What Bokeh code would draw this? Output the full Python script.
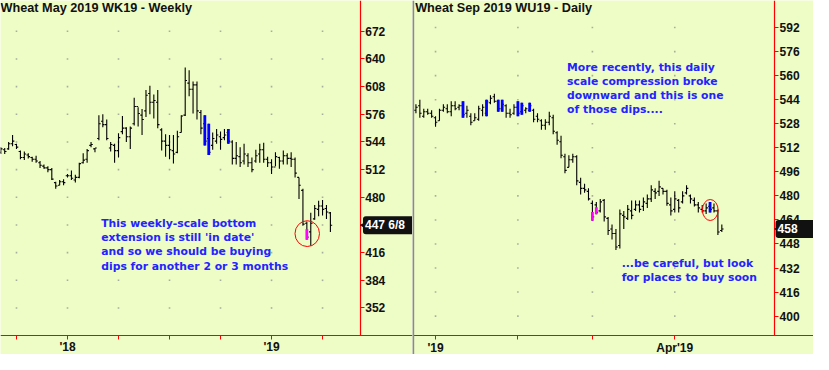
import numpy as np
from bokeh.plotting import figure
from bokeh.layouts import row
from bokeh.models import FixedTicker, Label, Arrow, NormalHead, ColumnDataSource, Range1d, Span
from bokeh.embed import file_html
from bokeh.resources import INLINE

# ---------------- Weekly (Wheat May 2019 WK19) ----------------
week_high = [538,537,544,552,542,534,533,531,527,528, 522,518,516,514,498,500,501,507,511,506,
             520,531,536,544,537,575,576,570,544,542, 554,574,561,562,595,584,582,604,609,599,
             604,560,553,552,552,557,575,630,627,614, 614,581,575,565,555,559,556,559,559,546,
             544,538,542,531,526,535,542,543,527,524, 532,527,534,531,532,526,503,490,452,462,
             471,476,477,471,463]
week_low = [530,530,535,539,536,524,523,525,521,520, 514,513,509,500,490,494,494,503,500,497,
            502,519,520,538,532,546,561,546,533,520, 526,553,544,536,563,562,552,573,576,571,
            560,534,527,524,519,531,555,574,597,577, 570,553,540,529,535,542,535,546,542,518,
            518,515,518,515,509,520,520,520,515,507, 516,513,518,518,515,503,478,447,431,424,
            454,458,459,455,440]
week_open = [532,535,536,542,541,533,526,529,526,524, 520,516,514,512,497,494,498,505,505,500,
             503,520,524,540,536,548,568,564,537,540, 534,556,560,550,565,585,575,580,600,590,
             590,558,545,540,534,532,555,575,612,605, 610,578,565,548,540,545,550,549,555,544,
             525,527,522,528,520,522,530,535,524,520, 515,526,522,528,525,524,503,488,450,440,
             455,466,470,467,462]
week_close = [536,533,542,545,538,526,530,527,524,522, 517,514,512,501,493,498,497,505,502,503,
              519,523,534,541,537,565,564,548,541,534, 549,560,550,560,585,577,570,598,590,592,
              564,545,540,535,530,550,574,615,605,610, 580,560,545,532,548,552,547,552,545,525,
              528,520,530,520,512,528,535,524,520,515, 527,522,528,525,524,508,494,449,434,450,
              467,470,466,463,447.75]
week_paint_idx = [52, 53, 58, 78]
week_paint_top = [575, 565, 559, 443]
week_paint_bottom = [540, 529, 542, 431]
week_paint_color = ["#0000FF", "#0000FF", "#0000FF", "#FF00FF"]
week_yticks = [352, 384, 416, 448, 480, 512, 544, 576, 608, 640, 672]
week_xmajor = [17, 69]
week_xminor = [4, 30, 43, 56, 82]
week_xlabels = {17: "'18", 69: "'19"}

# ---------------- Daily (Wheat Sep 2019 WU19) ----------------
day_high = [541,544,538,538,537,533,538,541,541,543, 543,541,543,540,535,535,540,541,544,547,
            548,544,544,541,538,541,543,542,539,542, 538,535,531,531,536,534,523,520,508,507,
            508,507,492,488,485,477,476,478,478,466, 461,458,471,470,474,477,477,477,479,481,
            487,485,490,485,484,479,483,478,483,487, 481,479,476,474,475,476,475,471,461]
day_low = [535,532,532,534,532,526,530,536,535,533, 537,537,532,532,527,530,530,533,533,541,
           542,536,536,532,532,534,533,534,535,536, 529,529,524,524,527,521,514,505,495,499,
           502,487,481,482,477,463.5,467.7,469,463,454, 451,444,445,458,464,464.5,470,469,470,472,
           476,478,480,481,473.5,467,469,469,475,481, 475,473,469,469,468,469,469,454,456]
day_open = [537,540,533,536,535,532,530,537,538,536, 540,539,540,535,533,530,531,537,535,542,
            546,543,538,540,535,535,539,536,537,537, 537,533,530,527,529,532,522,516,506,499,
            504,506,489,485,483,475,474,470,477,465, 458,455,447,467,465,470,471,474,473,475,
            478,483,483,485,483,474,471,477,476,482, 480,477,474,471,470,473,472,470,457]
day_close = [539,535,536,535,533,529,537,539,536,540, 538,540,534,537,529,532,538,539,543,545,
             543,538,541,535,534,539,535,540,538,540, 531,531,527,529,533,523,517,507,497,504,
             506,490,485,484,478,466,469,476,466,457, 455,446,468,466,471,467,474,471,476,478,
             484,482,486,483,475,470,478,472,480,485, 478,474,472,470,472,471,470,456,458]
day_paint_idx = [12, 18, 21, 22, 26, 27, 29, 45, 46, 75]
day_paint_top = [543, 544, 544, 544, 543, 542, 542, 469.2, 472.4, 476]
day_paint_bottom = [532, 533, 536, 536, 533, 534, 536, 463.5, 467.7, 469]
day_paint_color = ["#0000FF"] * 7 + ["#FF00FF", "#FF00FF", "#0000FF"]
day_yticks = [400, 416, 432, 448, 464, 480, 496, 512, 528, 544, 560, 576, 592]
day_xmajor = [5, 66]
day_xminor = [26, 45]
day_xlabels = {5: "'19", 66: "Apr'19"}

BG = "#EEFCC6"
RED = "#FF0000"
NOTE = "#2323FF"
H = 354


def make_panel(width, xr, yr, xaxis_at, yaxis_at, yticks, xmajor, xminor, xlabels,
               o, hi, lo, c, pidx, ptop, pbot, pcol):
    p = figure(width=width, height=H, output_backend="svg", toolbar_location=None,
               x_range=Range1d(*xr), y_range=Range1d(*yr), y_axis_location="right",
               min_border=0, background_fill_color=BG, border_fill_color=BG,
               outline_line_color=None)
    p.grid.visible = False
    xa = p.xaxis[0]
    xa.fixed_location = xaxis_at
    xa.ticker = FixedTicker(ticks=xmajor, minor_ticks=xminor)
    xa.major_label_overrides = xlabels
    ya = p.yaxis[0]
    ya.fixed_location = yaxis_at
    ya.bounds = (xaxis_at, yr[1])
    ya.ticker = FixedTicker(ticks=yticks)
    for ax in (xa, ya):
        ax.axis_line_color = RED
        ax.axis_line_width = 1.2
        ax.major_tick_line_color = RED
        ax.major_tick_in = 0
        ax.major_tick_out = 4
        ax.minor_tick_in = 0
        ax.minor_tick_out = 4
        ax.major_label_text_font = "Liberation Sans"
        ax.major_label_text_font_style = "bold"
        ax.major_label_text_font_size = "12px"
        ax.major_label_text_color = "#111111"
        ax.major_label_standoff = 1
    xa.minor_tick_line_color = RED
    ya.minor_tick_line_color = None

    # faint grid dots at tick intersections
    gx, gy = np.meshgrid(np.array(xmajor + xminor, dtype=float), np.array(yticks, dtype=float))
    p.scatter(gx.ravel(), gy.ravel(), marker="square", size=1.6, color="#A8AE9C", line_color=None)

    idx = np.arange(len(hi), dtype=float)
    src = ColumnDataSource(dict(x=idx, xl=idx - 0.45, xr=idx + 0.45, o=o, h=hi, l=lo, c=c))
    p.segment(x0="x", y0="l", x1="x", y1="h", source=src, line_color="black", line_width=1.1)
    p.segment(x0="xl", y0="o", x1="x", y1="o", source=src, line_color="black", line_width=1.1)
    p.segment(x0="x", y0="c", x1="xr", y1="c", source=src, line_color="black", line_width=1.1)
    p.vbar(x=pidx, width=0.72, top=ptop, bottom=pbot, fill_color=pcol, line_color=None)
    return p


left = make_panel(412, (-0.075, 104.925), (298.2, 707.6), 320.2, 91.6, week_yticks,
                  week_xmajor, week_xminor, week_xlabels,
                  week_open, week_high, week_low, week_close,
                  week_paint_idx, week_paint_top, week_paint_bottom, week_paint_color)
right = make_panel(401, (-0.875, 101.375), (374.46, 610.0), 387.1, 91.45, day_yticks,
                   day_xmajor, day_xminor, day_xlabels,
                   day_open, day_high, day_low, day_close,
                   day_paint_idx, day_paint_top, day_paint_bottom, day_paint_color)

# circles
left.ellipse(x=[78.1], y=[438.0], width=[24.5], height=[25.8], width_units="screen",
             height_units="screen", fill_color=None, line_color=RED, line_width=1)
right.ellipse(x=[75.05], y=[470.6], width=[15.7], height=[21.0], width_units="screen",
              height_units="screen", fill_color=None, line_color=RED, line_width=1)

# titles
left.add_layout(Label(x=-0.075, y=698.8, text="Wheat May 2019  WK19 - Weekly",
                      text_font="Liberation Sans", text_font_style="bold", text_font_size="12.7px",
                      text_color="#111111", text_baseline="middle", text_align="left"))
right.add_layout(Label(x=-0.2, y=604.9, text="Wheat Sep 2019  WU19 - Daily",
                       text_font="Liberation Sans", text_font_style="bold", text_font_size="12.7px",
                       text_color="#111111", text_baseline="middle", text_align="left"))

# notes
def notes(p, x, ys, lines):
    for yy, t in zip(ys, lines):
        p.add_layout(Label(x=x, y=yy, text=t, text_font="DejaVu Sans", text_font_style="bold",
                           text_font_size="10.8px", text_color=NOTE,
                           text_baseline="middle", text_align="left"))

notes(left, 25.6, [450.1, 433.6, 417.0, 400.5],
      ["This weekly-scale bottom", "extension is still 'in date'",
       "and so we should be buying", "dips for another 2 or 3 months"])
notes(right, 38.55, [565.5, 556.2, 546.7, 537.4],
      ["More recently, this daily", "scale compression broke",
       "downward and this is one", "of those dips...."])
notes(right, 52.45, [434.9, 425.4],
      ["...be careful, but look", "for places to buy soon"])

# last-price tags
def tag(p, x0, xtip, y, text):
    p.add_layout(Arrow(x_start=x0 + 0.3, y_start=y, x_end=xtip, y_end=y,
                       end=NormalHead(size=8, fill_color="#111111", line_color="#111111"),
                       line_color="#111111", line_width=1))
    p.add_layout(Label(x=x0, y=y, text=text, text_font="Liberation Sans", text_font_style="bold",
                       text_font_size="12px", text_color="white", text_baseline="middle",
                       text_align="left", background_fill_color="#111111", padding=2,
                       border_radius=3))

tag(left, 92.3, 91.65, week_close[-1], "447 6/8     ")
tag(right, 91.7, 91.5, day_close[-1], "458      ")

# divider between panels
right.add_layout(Span(location=-0.7, dimension="height", line_color="#8A8A8A", line_width=2))

layout = row(left, right)
open("out.html", "w").write(file_html(layout, INLINE))
